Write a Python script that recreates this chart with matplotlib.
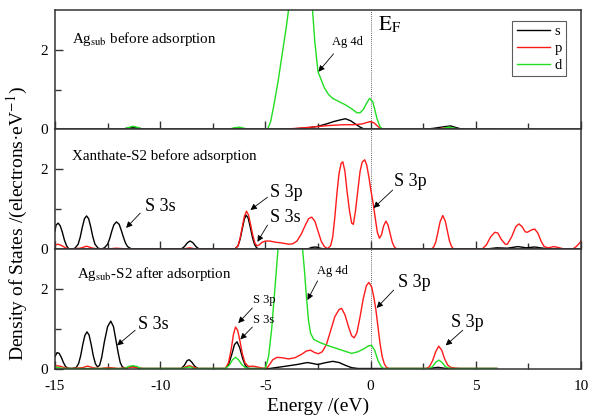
import matplotlib
matplotlib.use('Agg')
import matplotlib.pyplot as plt

plt.rcParams['font.family'] = ['Liberation Serif', 'DejaVu Serif']
plt.rcParams['mathtext.fontset'] = 'stix'

# ---------------- data (energy in eV, DOS in electrons/eV) ----------------
x_major = [-15, -10, -5, 0, 5, 10]
x_minor = [-12.5, -7.5, -2.5, 2.5, 7.5]
y_major = [0, 2]
y_minor = [1]
orbitals = ['s', 'p', 'd']

panel_titles = ['Ag$_{\\mathrm{sub}}$ before adsorption',
                'Xanthate-S2 before adsorption',
                'Ag$_{\\mathrm{sub}}$-S2 after adsorption']

# Panel 1: Ag_sub before adsorption
ag_s = [(-15, 0), (-11.9, 0), (-11.6, 0.03), (-11.3, 0.06), (-11.0, 0.03), (-10.7, 0), (-6.7, 0), (-6.3, 0.02),
        (-5.9, 0), (-4.6, 0), (-3.6, 0.02), (-3.0, 0.04), (-2.5, 0.08), (-2.1, 0.14), (-1.75, 0.2), (-1.45, 0.24),
        (-1.2, 0.27), (-0.95, 0.22), (-0.7, 0.13), (-0.5, 0.06), (-0.3, 0.01), (0.0, 0), (2.5, 0), (3.0, 0.03),
        (3.5, 0.07), (3.8, 0.09), (4.05, 0.05), (4.4, 0), (6.0, 0)]
ag_p = [(-15, 0), (-6.8, 0), (-6.3, 0.04), (-5.8, 0), (-4.3, 0), (-3.5, 0.03), (-2.8, 0.06), (-2.0, 0.1),
        (-1.3, 0.12), (-0.8, 0.12), (-0.4, 0.14), (-0.15, 0.18), (0.0, 0.2), (0.15, 0.17), (0.3, 0.1),
        (0.45, 0.03), (0.6, 0), (3.0, 0), (3.6, 0.05), (4.2, 0), (6.0, 0)]
ag_d = [(-15, 0), (-11.8, 0), (-11.5, 0.05), (-11.3, 0.08), (-11.05, 0.05), (-10.8, 0), (-6.8, 0), (-6.5, 0.04),
        (-6.25, 0.06), (-6.0, 0.03), (-5.8, 0), (-4.9, 0), (-4.75, 0.2), (-4.6, 0.6), (-4.4, 1.2), (-4.2, 1.9),
        (-4.0, 2.6), (-3.9, 3.0), (-3.6, 4.2), (-3.3, 4.5), (-3.0, 4.0), (-2.76, 3.0), (-2.65, 2.2), (-2.5, 1.45),
        (-2.35, 1.25), (-2.2, 1.05), (-2.0, 0.88), (-1.8, 0.78), (-1.5, 0.7), (-1.2, 0.62), (-0.9, 0.52),
        (-0.65, 0.42), (-0.5, 0.42), (-0.35, 0.5), (-0.2, 0.65), (-0.05, 0.78), (0.1, 0.7), (0.2, 0.5),
        (0.3, 0.28), (0.45, 0.07), (0.6, 0), (3.2, 0), (3.7, 0.06), (4.3, 0), (6.0, 0)]

# Panel 2: Xanthate-S2 before adsorption
xan_s = [(-15, 0.45), (-14.95, 0.6), (-14.85, 0.65), (-14.75, 0.58), (-14.65, 0.42), (-14.55, 0.22), (-14.45, 0.08),
         (-14.35, 0.01), (-14.2, 0), (-14.05, 0.02), (-13.9, 0.12), (-13.8, 0.3), (-13.7, 0.55), (-13.6, 0.76),
         (-13.5, 0.83), (-13.4, 0.76), (-13.3, 0.55), (-13.2, 0.3), (-13.1, 0.12), (-12.95, 0.02), (-12.8, 0),
         (-12.65, 0.03), (-12.5, 0.12), (-12.4, 0.26), (-12.3, 0.45), (-12.2, 0.61), (-12.08, 0.68),
         (-11.95, 0.62), (-11.85, 0.47), (-11.75, 0.3), (-11.65, 0.15), (-11.55, 0.06), (-11.4, 0.01),
         (-11.2, 0), (-9.0, 0), (-8.85, 0.06), (-8.7, 0.16), (-8.58, 0.2), (-8.45, 0.16), (-8.3, 0.06),
         (-8.15, 0), (-6.45, 0), (-6.3, 0.08), (-6.2, 0.25), (-6.1, 0.5), (-6.0, 0.75), (-5.92, 0.85),
         (-5.82, 0.78), (-5.72, 0.55), (-5.62, 0.3), (-5.52, 0.12), (-5.42, 0.03), (-5.3, 0), (-3.0, 0),
         (-2.8, 0.04), (-2.6, 0.05), (-2.4, 0.02), (-2.2, 0), (5.5, 0), (6.0, 0.03), (6.5, 0.02), (7.0, 0.06),
         (7.4, 0.03), (7.8, 0.05), (8.2, 0.02), (8.6, 0), (10, 0)]
xan_p = [(-15, 0.1), (-14.85, 0.12), (-14.7, 0.09), (-14.5, 0.03), (-14.3, 0), (-13.8, 0.02), (-13.5, 0.07),
         (-13.2, 0.02), (-12.9, 0), (-12.3, 0.01), (-12.1, 0.02), (-11.8, 0.01), (-11.5, 0), (-8.9, 0),
         (-8.6, 0.03), (-8.3, 0), (-6.45, 0), (-6.3, 0.08), (-6.2, 0.28), (-6.1, 0.55), (-6.0, 0.82),
         (-5.9, 0.95), (-5.8, 0.85), (-5.7, 0.6), (-5.6, 0.35), (-5.5, 0.15), (-5.4, 0.08), (-5.3, 0.1),
         (-5.15, 0.17), (-5.0, 0.2), (-4.8, 0.2), (-4.5, 0.17), (-4.2, 0.15), (-3.9, 0.12), (-3.7, 0.13),
         (-3.5, 0.2), (-3.3, 0.37), (-3.1, 0.6), (-2.95, 0.76), (-2.8, 0.8), (-2.65, 0.7), (-2.5, 0.45),
         (-2.35, 0.2), (-2.2, 0.06), (-2.05, 0.01), (-1.9, 0.08), (-1.8, 0.3), (-1.7, 0.8), (-1.6, 1.4),
         (-1.5, 1.9), (-1.4, 2.15), (-1.32, 2.19), (-1.22, 1.95), (-1.12, 1.45), (-1.0, 0.95), (-0.9, 0.65),
         (-0.82, 0.62), (-0.72, 0.95), (-0.6, 1.5), (-0.5, 1.95), (-0.4, 2.18), (-0.28, 2.24), (-0.18, 2.1),
         (-0.08, 1.8), (0.02, 1.45), (0.12, 1.15), (0.22, 0.78), (0.32, 0.42), (0.42, 0.27), (0.52, 0.36),
         (0.62, 0.58), (0.73, 0.7), (0.83, 0.6), (0.93, 0.38), (1.03, 0.17), (1.13, 0.05), (1.25, 0),
         (2.9, 0), (3.0, 0.05), (3.1, 0.18), (3.2, 0.42), (3.3, 0.68), (3.43, 0.84), (3.55, 0.7),
         (3.65, 0.45), (3.75, 0.2), (3.85, 0.06), (3.95, 0), (5.3, 0), (5.5, 0.1), (5.7, 0.3), (5.9, 0.42),
         (6.05, 0.4), (6.2, 0.25), (6.4, 0.12), (6.5, 0.12), (6.7, 0.3), (6.9, 0.56), (7.05, 0.63),
         (7.2, 0.56), (7.35, 0.43), (7.45, 0.42), (7.65, 0.48), (7.8, 0.5), (7.95, 0.4), (8.1, 0.2),
         (8.25, 0.06), (8.45, 0.03), (8.7, 0.06), (8.9, 0.04), (9.2, 0), (9.6, 0), (9.75, 0.05),
         (9.9, 0.13), (10.0, 0.2)]

# Panel 3: Ag_sub-S2 after adsorption
aft_s = [(-15, 0.3), (-14.9, 0.4), (-14.8, 0.38), (-14.7, 0.28), (-14.6, 0.15), (-14.5, 0.05), (-14.4, 0.01),
         (-14.2, 0), (-14.0, 0.02), (-13.88, 0.12), (-13.78, 0.32), (-13.68, 0.6), (-13.58, 0.83),
         (-13.48, 0.92), (-13.38, 0.84), (-13.28, 0.6), (-13.18, 0.32), (-13.08, 0.12), (-12.98, 0.04),
         (-12.88, 0.08), (-12.78, 0.28), (-12.65, 0.68), (-12.5, 1.05), (-12.35, 1.19), (-12.22, 1.05),
         (-12.1, 0.7), (-12.0, 0.4), (-11.9, 0.15), (-11.8, 0.04), (-11.65, 0), (-11.5, 0.03), (-11.3, 0.05),
         (-11.1, 0.02), (-10.9, 0), (-9.0, 0), (-8.85, 0.08), (-8.72, 0.2), (-8.62, 0.22), (-8.5, 0.16),
         (-8.35, 0.05), (-8.2, 0), (-6.9, 0), (-6.75, 0.1), (-6.6, 0.35), (-6.47, 0.6), (-6.35, 0.67),
         (-6.22, 0.52), (-6.08, 0.25), (-5.95, 0.07), (-5.8, 0), (-4.8, 0), (-4.4, 0.03), (-4.0, 0.06),
         (-3.5, 0.1), (-3.0, 0.15), (-2.7, 0.12), (-2.5, 0.1), (-2.2, 0.14), (-1.8, 0.18), (-1.5, 0.15),
         (-1.2, 0.08), (-0.9, 0.02), (-0.6, 0), (2.8, 0), (3.2, 0.03), (3.6, 0), (6.0, 0)]
aft_p = [(-15, 0.05), (-14.9, 0.07), (-14.7, 0.05), (-14.5, 0.01), (-14.3, 0), (-13.7, 0.02), (-13.45, 0.06),
         (-13.2, 0.02), (-12.9, 0), (-12.5, 0.02), (-12.3, 0.02), (-12.0, 0), (-11.6, 0.02), (-11.3, 0.04),
         (-11.05, 0.02), (-10.8, 0), (-9.0, 0), (-8.75, 0.05), (-8.6, 0.07), (-8.4, 0.03), (-8.2, 0),
         (-6.9, 0), (-6.75, 0.15), (-6.62, 0.5), (-6.52, 0.85), (-6.42, 1.04), (-6.32, 0.96), (-6.22, 0.72),
         (-6.1, 0.38), (-5.97, 0.14), (-5.8, 0.05), (-5.6, 0.06), (-5.4, 0.04), (-5.15, 0.01), (-4.95, 0),
         (-4.8, 0.1), (-4.65, 0.22), (-4.45, 0.28), (-4.2, 0.27), (-3.9, 0.24), (-3.6, 0.27), (-3.3, 0.35),
         (-3.05, 0.44), (-2.86, 0.46), (-2.66, 0.4), (-2.48, 0.37), (-2.3, 0.42), (-2.1, 0.6), (-1.9, 0.95),
         (-1.7, 1.3), (-1.5, 1.48), (-1.38, 1.51), (-1.22, 1.35), (-1.05, 1.05), (-0.9, 0.82), (-0.78, 0.77),
         (-0.65, 0.9), (-0.5, 1.3), (-0.35, 1.75), (-0.2, 2.08), (-0.08, 2.16), (0.05, 2.05), (0.15, 1.8),
         (0.25, 1.48), (0.35, 1.05), (0.45, 0.62), (0.55, 0.3), (0.65, 0.12), (0.75, 0.03), (0.88, 0),
         (2.65, 0), (2.8, 0.05), (2.95, 0.2), (3.1, 0.43), (3.24, 0.56), (3.38, 0.46), (3.52, 0.24),
         (3.66, 0.09), (3.8, 0.03), (4.0, 0.01), (4.3, 0), (6.0, 0)]
aft_d = [(-15, 0.02), (-14.9, 0.03), (-14.7, 0.01), (-14.5, 0), (-11.7, 0), (-11.5, 0.05), (-11.3, 0.07),
         (-11.1, 0.05), (-10.9, 0), (-9.0, 0), (-8.7, 0.03), (-8.55, 0.04), (-8.4, 0), (-6.9, 0), (-6.72, 0.08),
         (-6.56, 0.22), (-6.42, 0.28), (-6.28, 0.22), (-6.12, 0.1), (-5.95, 0.02), (-5.75, 0), (-5.0, 0),
         (-4.85, 0.3), (-4.7, 1.0), (-4.55, 2.0), (-4.4, 3.0), (-4.2, 4.3), (-3.9, 5.3), (-3.6, 5.0),
         (-3.4, 4.0), (-3.25, 3.1), (-3.15, 2.5), (-3.05, 1.8), (-2.95, 1.2), (-2.85, 0.88), (-2.7, 0.73),
         (-2.4, 0.65), (-2.0, 0.57), (-1.6, 0.5), (-1.2, 0.43), (-0.9, 0.38), (-0.6, 0.42), (-0.3, 0.5),
         (-0.1, 0.57), (0.05, 0.58), (0.2, 0.45), (0.35, 0.2), (0.5, 0.05), (0.62, 0), (2.8, 0), (2.95, 0.05),
         (3.1, 0.16), (3.25, 0.21), (3.4, 0.15), (3.55, 0.05), (3.7, 0.01), (3.9, 0), (6.0, 0)]

panels = [[ag_s, ag_p, ag_d], [xan_s, xan_p], [aft_s, aft_p, aft_d]]
colors = {'s': '#000000', 'p': '#ff1a1a', 'd': '#22dd22'}

# ---------------- figure ----------------
fig = plt.figure(figsize=(5.89, 4.15), dpi=100)
gs = fig.add_gridspec(3, 1, left=55 / 589, right=581 / 589, top=1 - 10 / 415, bottom=1 - 368.5 / 415, hspace=0)
axes = [fig.add_subplot(gs[i]) for i in range(3)]

for i, ax in enumerate(axes):
    for k, curve in enumerate(panels[i]):
        E = [c[0] for c in curve]
        D = [c[1] for c in curve]
        ax.plot(E, D, color=colors[orbitals[k]], lw=1.0, label=orbitals[k])
    ax.axvline(0, color='#333333', lw=0.6, ls=(0, (1.0, 1.5)), zorder=0.5)
    ax.set_xlim(-15, 10)
    ax.set_ylim(0, 3)
    ax.set_xticks(x_major)
    ax.set_xticks(x_minor, minor=True)
    ax.set_yticks(y_major)
    ax.set_yticks(y_minor, minor=True)
    ax.tick_params(which='both', direction='in', top=False, right=False, labelsize=11)
    ax.tick_params(axis='x', which='both', pad=8)
    ax.tick_params(axis='y', which='both', pad=5)
    ax.tick_params(which='major', length=6, width=1.0, color='#333333')
    ax.tick_params(which='minor', length=4, width=1.0, color='#333333')
    for sp in ax.spines.values():
        sp.set_linewidth(1.1)
        sp.set_color('#333333')
    if i < 2:
        ax.tick_params(labelbottom=False)

# panel titles
axes[0].text(-14.19, 2.28, panel_titles[0], fontsize=10.8, ha='left', va='center')
axes[1].text(-14.19, 2.34, panel_titles[1], fontsize=10.8, ha='left', va='center')
axes[2].text(-13.95, 2.38, panel_titles[2], fontsize=10.8, ha='left', va='center')

axes[2].set_xticklabels([str(v) for v in x_major])
axes[2].set_xlabel('Energy /(eV)', fontsize=14, labelpad=4)
fig.text(0.03, 0.46, 'Density of States /(electrons·eV$^{-1}$)', rotation=90, fontsize=14,
         ha='center', va='center')

# E_F label
axes[0].text(0.33, 2.63, '$\\mathrm{E}_{\\mathrm{F}}$', fontsize=15, ha='left', va='center')

# legend
leg = axes[0].legend(loc='upper right', bbox_to_anchor=(0.972, 0.91), fontsize=10.5, frameon=True,
                     fancybox=False, edgecolor='#333333', handlelength=2.3, handletextpad=0.3,
                     labelspacing=0.25, borderpad=0.3, borderaxespad=0)
leg.get_frame().set_linewidth(0.8)


def arrow(ax, text, txt_xy, tail, tip, size, ha='left'):
    ax.text(txt_xy[0], txt_xy[1], text, fontsize=size, ha=ha, va='center')
    ax.annotate('', xy=tip, xytext=tail,
                arrowprops=dict(arrowstyle='-|>', color='black', lw=0.6, mutation_scale=9,
                                shrinkA=0, shrinkB=0))


# top panel
arrow(axes[0], 'Ag 4d', (-1.1, 2.2), (-1.76, 1.9), (-2.48, 1.45), 9, ha='center')
# middle panel
arrow(axes[1], 'S 3s', (-10.71, 1.06), (-10.95, 0.9), (-11.62, 0.53), 13)
arrow(axes[1], 'S 3p', (-4.76, 1.43), (-4.9, 1.3), (-5.71, 0.98), 13)
arrow(axes[1], 'S 3s', (-4.76, 0.78), (-4.9, 0.6), (-5.38, 0.18), 13)
arrow(axes[1], 'S 3p', (1.1, 1.69), (1.05, 1.48), (0.14, 1.03), 13)
# bottom panel
arrow(axes[2], 'S 3s', (-11.05, 1.11), (-11.19, 0.96), (-12.05, 0.58), 13)
arrow(axes[2], 'S 3p', (-5.57, 1.72), (-5.62, 1.52), (-6.29, 1.14), 9)
arrow(axes[2], 'S 3s', (-5.57, 1.22), (-5.62, 1.04), (-6.19, 0.73), 9)
arrow(axes[2], 'Ag 4d', (-1.81, 2.46), (-2.52, 2.2), (-3.0, 1.72), 9, ha='center')
arrow(axes[2], 'S 3p', (1.29, 2.15), (1.1, 1.97), (0.29, 1.52), 13)
arrow(axes[2], 'S 3p', (3.81, 1.16), (4.38, 0.96), (3.57, 0.58), 13)

fig.savefig('out.png', dpi=100)
